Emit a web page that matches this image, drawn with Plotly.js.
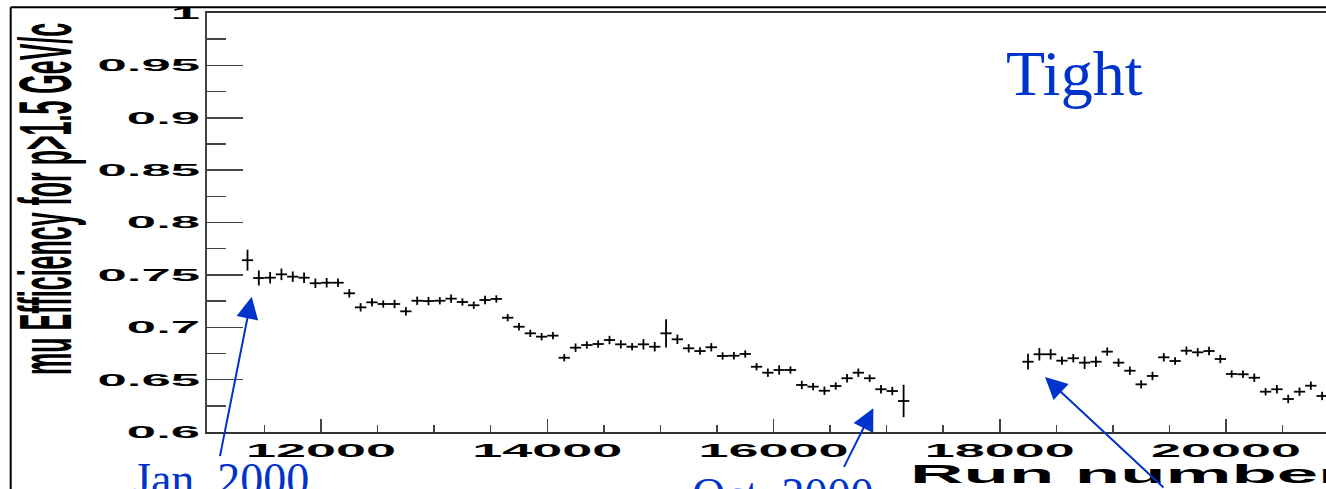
<!DOCTYPE html>
<html>
<head>
<meta charset="utf-8">
<script src="https://cdn.plot.ly/plotly-3.0.1.min.js"></script>
<style>
html,body{margin:0;padding:0;background:#fff;overflow:hidden;}
#chart{width:1326px;height:489px;}
</style>
</head>
<body>
<div id="chart"></div>
<script>
// ---- data ----
const runsA = [11350,11450,11550,11650,11750,11850,11950,12050,12150,12250,
  12350,12450,12550,12650,12750,12850,12950,13050,13150,13250,
  13350,13450,13550,13650,13750,13850,13950,14050,14150,14250,
  14350,14450,14550,14650,14750,14850,14950,15050,15150,15250,
  15350,15450,15550,15650,15750,15850,15950,16050,16150,16250,
  16350,16450,16550,16650,16750,16850,16950,17050,17150];
const effA = [0.764,0.747,0.7473,0.7505,0.7483,0.7473,0.742,0.7425,0.7425,0.7324,
  0.719,0.7238,0.7222,0.7222,0.7152,0.7253,0.725,0.7253,0.7273,0.7241,
  0.721,0.726,0.727,0.7091,0.7005,0.6942,0.691,0.692,0.6709,0.6805,
  0.683,0.684,0.6878,0.6837,0.6814,0.6837,0.6814,0.6942,0.6885,0.6799,
  0.6773,0.6809,0.6726,0.6728,0.6745,0.6623,0.6566,0.6592,0.6592,0.6449,
  0.6433,0.6394,0.6439,0.6513,0.6566,0.6513,0.6408,0.6391,0.6296];
const errA = [0.010,0.0072,0.0055,0.0055,0.005,0.005,0.0045,0.0045,0.004,0.004,
  0.004,0.004,0.0035,0.004,0.004,0.004,0.004,0.0035,0.004,0.0035,
  0.0035,0.004,0.0035,0.0035,0.0035,0.0035,0.0035,0.0035,0.0035,0.004,
  0.0035,0.0035,0.004,0.004,0.0035,0.005,0.0045,0.0135,0.0045,0.004,
  0.0035,0.004,0.0035,0.0035,0.0035,0.0035,0.004,0.0045,0.0035,0.004,
  0.0035,0.004,0.0035,0.004,0.004,0.0035,0.004,0.004,0.0155];

const runsB = [18250,18350,18450,18550,18650,18750,18850,18950,19050,19150,
  19250,19350,19450,19550,19650,19750,19850,19950,20050,20150,
  20250,20350,20450,20550,20650,20750,20850];
const effB = [0.6671,0.6742,0.6742,0.6681,0.6704,0.6662,0.6671,0.6767,0.6662,0.6585,
  0.6455,0.6535,0.6713,0.6678,0.6776,0.6761,0.6773,0.6697,0.6554,0.6551,
  0.6518,0.6385,0.6408,0.6315,0.6385,0.6442,0.6344];
const errB = [0.0075,0.006,0.005,0.004,0.004,0.006,0.005,0.004,0.004,0.004,
  0.004,0.004,0.004,0.0035,0.004,0.004,0.004,0.004,0.0035,0.0035,
  0.004,0.0035,0.004,0.004,0.004,0.004,0.004];

const binHalfWidth = 50;
const yTitle = 'mu Efficiency for p>1.5 GeV/c';
const xTitle = 'Run number';
const tagText = 'Tight';
const notes = ['Jan. 2000', 'Oct. 2000'];

// ---- drawing ----
const blue = '#0033cc';
function series(x, y, e) {
  return {
    type: 'scatter', mode: 'markers', x: x, y: y,
    marker: {size: 2, color: '#000'},
    error_y: {type: 'data', array: e, visible: true, color: '#000', thickness: 1.8, width: 0},
    error_x: {type: 'constant', value: binHalfWidth, visible: true, color: '#000', thickness: 1.8, width: 0},
    hoverinfo: 'skip', showlegend: false, cliponaxis: false
  };
}

const W = 1326, H = 489, L = 207, T = 13, B = 57;
const pw = W - L, ph = H - T - B;
const px = v => (v - L) / pw;          // pixel x -> paper x
const py = v => (H - B - v) / ph;      // pixel y -> paper y

const tickFont = {family: 'Liberation Sans, Arial, sans-serif', size: 17, color: '#000', weight: 'bold'};

const layout = {
  width: W, height: H,
  margin: {l: L, r: 0, t: T, b: B, pad: 0},
  paper_bgcolor: '#fff', plot_bgcolor: '#fff',
  showlegend: false,
  xaxis: {
    range: [10992, 20884], tick0: 0, dtick: 2000, tickformat: 'd',
    ticks: 'inside', ticklen: 13, tickwidth: 1.5, tickcolor: '#444',
    minor: {dtick: 500, ticks: 'inside', ticklen: 7, tickwidth: 1.5, tickcolor: '#444'},
    showgrid: false, zeroline: false,
    showline: true, linecolor: '#333', linewidth: 2, mirror: true,
    tickfont: Object.assign({}, tickFont, {size: 19}),
    ticklabelstandoff: 0
  },
  yaxis: {
    range: [0.6, 1.0], tick0: 0.6, dtick: 0.05,
    ticks: 'inside', ticklen: 36, tickwidth: 1.5, tickcolor: '#444',
    minor: {dtick: 0.025, ticks: 'inside', ticklen: 19, tickwidth: 1.5, tickcolor: '#444'},
    showgrid: false, zeroline: false,
    showline: true, linecolor: '#444', linewidth: 2.5,
    tickfont: tickFont,
    ticklabelstandoff: 1
  },
  shapes: [
    {type: 'line', xref: 'paper', yref: 'paper', x0: px(10.7), x1: px(10.7), y0: py(495), y1: py(7.3),
     line: {color: '#000', width: 2}},
    {type: 'line', xref: 'paper', yref: 'paper', x0: px(10.7), x1: px(1330), y0: py(7.3), y1: py(7.3),
     line: {color: '#000', width: 2}}
  ],
  annotations: [
    {text: yTitle, xref: 'paper', yref: 'paper', x: px(44), y: py(199), xanchor: 'center', yanchor: 'middle',
     textangle: -90, showarrow: false,
     font: {family: 'Liberation Sans, Arial, sans-serif', size: 25, color: '#000', weight: 'bold'}},
    {text: xTitle, xref: 'paper', yref: 'paper', x: px(908), y: py(457), xanchor: 'left', yanchor: 'top',
     showarrow: false,
     font: {family: 'Liberation Sans, Arial, sans-serif', size: 26.5, color: '#000', weight: 'bold'}},
    {text: tagText, xref: 'paper', yref: 'paper', x: px(1074), y: py(73.5), xanchor: 'center', yanchor: 'middle',
     showarrow: false, font: {family: 'Liberation Serif, Times New Roman, serif', size: 64, color: blue}},
    {text: notes[0], xref: 'paper', yref: 'paper', x: px(221), y: py(479), xanchor: 'center', yanchor: 'middle',
     showarrow: false, font: {family: 'Liberation Serif, Times New Roman, serif', size: 46, color: blue}},
    {text: notes[1], xref: 'paper', yref: 'paper', x: px(782), y: py(494), xanchor: 'center', yanchor: 'middle',
     showarrow: false, font: {family: 'Liberation Serif, Times New Roman, serif', size: 46, color: blue}},
    // arrows (tip in data coords, tail as pixel offset)
    {text: '', x: 11387, y: 0.7292, xref: 'x', yref: 'y', ax: -32, ay: 161, showarrow: true,
     arrowhead: 2, arrowsize: 2.2, arrowwidth: 2, arrowcolor: blue, standoff: 0},
    {text: '', x: 16882, y: 0.6226, xref: 'x', yref: 'y', ax: -30, ay: 60, showarrow: true,
     arrowhead: 2, arrowsize: 2.2, arrowwidth: 2, arrowcolor: blue, standoff: 0},
    {text: '', x: 18400, y: 0.6525, xref: 'x', yref: 'y', ax: 120, ay: 115, showarrow: true,
     arrowhead: 2, arrowsize: 2.2, arrowwidth: 2, arrowcolor: blue, standoff: 0}
  ]
};

// widen text horizontally like the stretched original canvas (text stays real text)
function stretch(el, sx, mode) {
  const svg = el.ownerSVGElement;
  const r = el.getBoundingClientRect();
  const ax = mode === 'right' ? r.right : mode === 'left' ? r.left : (r.left + r.right) / 2;
  const ay = (r.top + r.bottom) / 2;
  const M = el.getScreenCTM();
  const P = el.parentNode.getScreenCTM();
  const S = svg.createSVGMatrix().translate(ax, ay).scaleNonUniform(sx, 1).translate(-ax, -ay);
  const local = P.inverse().multiply(S).multiply(M);
  el.transform.baseVal.initialize(svg.createSVGTransformFromMatrix(local));
}

Plotly.newPlot('chart', [series(runsA, effA, errA), series(runsB, effB, errB)], layout,
  {displayModeBar: false, staticPlot: true}).then(function (gd) {
  gd.querySelectorAll('.ytick text').forEach(t => stretch(t, 3.1, 'right'));
  gd.querySelectorAll('.xtick text').forEach(t => stretch(t, 2.84, 'center'));
  const ann = gd.querySelectorAll('.annotation');
  ann.forEach(a => {
    const idx = +a.getAttribute('data-index');
    const t = a.querySelector('text');
    if (!t) return;
    if (idx === 0) stretch(t, 3.0, 'center');
    if (idx === 1) stretch(t, 2.8, 'left');
  });
});
</script>
</body>
</html>
